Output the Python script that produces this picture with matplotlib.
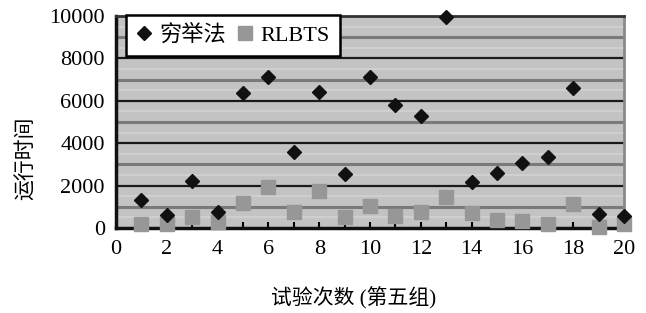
import numpy as np
import matplotlib
matplotlib.use("Agg")
from matplotlib import pyplot as plt

plt.rcParams['font.family'] = ['Liberation Serif', 'Noto Sans CJK SC']

trials = list(range(1, 21))
exhaustive = [1300, 600, 2200, 750, 6350, 7100, 3580, 6400, 2550, 7100,
              5800, 5280, 9950, 2150, 2600, 3060, 3350, 6600, 650, 570]
rlbts = [190, 200, 530, 280, 1170, 1950, 760, 1760, 530, 1040,
         570, 740, 1470, 720, 380, 340, 190, 1130, 50, 200]
xticks = list(range(0, 21, 2))
yticks = list(range(0, 10001, 2000))

fig = plt.figure(figsize=(6.46, 3.13), dpi=100)
ax = fig.add_axes([0.1796, 0.2716, 0.7864, 0.6774])
ax.set_facecolor('#c3c3c3')

# striped background: black lines on even thousands, grey on odd
for v in range(1000, 10001, 1000):
    if v % 2000 == 0:
        ax.axhline(v, color='#1a1a1a', lw=1.6, zorder=1)
    else:
        ax.axhline(v, color='#7a7a7a', lw=2.2, zorder=1)
for v in range(500, 10000, 1000):
    ax.axhline(v, color='#d2d2d2', lw=1.2, zorder=1)

ax.plot(trials, rlbts, 's', color='#979797', ms=9.5, label='RLBTS',
        zorder=3, clip_on=False)
ax.plot(trials, exhaustive, 'D', color='#111111', ms=7.2, label='穷举法',
        zorder=4, clip_on=False)

ax.set_xlim(0, 20)
ax.set_ylim(0, 10000)
ax.set_xticks(xticks)
ax.set_xticks(range(0, 21), minor=True)
ax.set_yticks(yticks)
ax.tick_params(axis='x', which='both', direction='in', length=4, width=1.5,
               labelsize=16, pad=9)
ax.tick_params(axis='y', length=0, labelsize=16, pad=8)

for s in ['left', 'bottom']:
    ax.spines[s].set_linewidth(2.5)
    ax.spines[s].set_color('#111111')
ax.spines['top'].set_color('#333333')
ax.spines['top'].set_linewidth(2)
ax.spines['right'].set_color('#8a8a8a')
ax.spines['right'].set_linewidth(2)

ax.set_ylabel('运行时间', fontsize=15)
ax.yaxis.set_label_coords(-0.155, 0.33)
ax.set_xlabel('试验次数 (第五组)', fontsize=15)
ax.xaxis.set_label_coords(0.467, -0.28)

h, l = ax.get_legend_handles_labels()
leg = ax.legend(h[::-1], l[::-1], loc='upper left', bbox_to_anchor=(0.02, 1.005),
                ncol=2, fontsize=16, frameon=True, fancybox=False,
                handlelength=0.7, handletextpad=0.35, columnspacing=0.5,
                borderpad=0.45, borderaxespad=0.0)
leg.get_frame().set_edgecolor('black')
leg.get_frame().set_linewidth(1.8)
leg.get_frame().set_alpha(1)

plt.savefig('out.png', dpi=100)
